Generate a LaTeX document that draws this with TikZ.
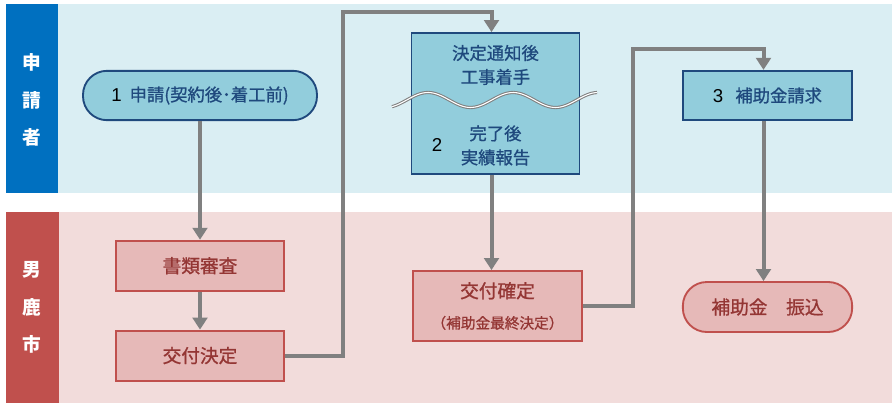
\documentclass[tikz,border=0pt]{standalone}
\usepackage{fontspec}
\newfontfamily\jpfont[BoldFont={Noto Sans CJK JP}, BoldFeatures={FakeBold=1}]{Noto Sans CJK JP}
\newfontfamily\jplane{Noto Sans CJK JP}
\newfontfamily\numfont{Liberation Sans}
\usepackage{xcolor}
\usetikzlibrary{arrows.meta, positioning}

\definecolor{barblue}{HTML}{0070C0}
\definecolor{bandblue}{HTML}{DAEEF3}
\definecolor{fillblue}{HTML}{92CDDC}
\definecolor{lineblue}{HTML}{1F497D}
\definecolor{barred}{HTML}{C0504D}
\definecolor{bandred}{HTML}{F2DCDB}
\definecolor{fillred}{HTML}{E6B9B8}
\definecolor{textred}{HTML}{943634}
\definecolor{arrgray}{HTML}{808080}

\begin{document}
\begin{tikzpicture}[x=0.75pt, y=-0.75pt,
  bluebox/.style  = {draw=lineblue, line width=1.4pt, fill=fillblue,
                     text=lineblue, align=center, inner sep=0pt,
                     minimum width=126pt, minimum height=37pt,
                     font=\jpfont\fontsize{13}{15}\selectfont},
  redbox/.style   = {draw=barred, line width=1.4pt, fill=fillred,
                     text=textred, align=center, inner sep=0pt,
                     minimum width=126pt, minimum height=37.5pt,
                     font=\jpfont\fontsize{14}{16}\selectfont},
  pill/.style     = {rounded corners=18pt},
  bandlbl/.style  = {text=white, align=center, inner sep=0pt,
                     font=\jplane\bfseries\fontsize{14}{28}\selectfont},
  bluetxt/.style  = {text=lineblue, align=center, inner sep=0pt,
                     font=\jpfont\fontsize{13}{18}\selectfont},
  num/.style      = {text=black, inner sep=0pt,
                     font=\numfont\fontsize{14}{15}\selectfont},
  wave/.style     = {draw=arrgray, line width=0.8pt,
                     double=white, double distance=0.8pt},
  arr/.style      = {-{Triangle[length=9pt, width=11pt]}, line width=3pt,
                     arrgray}
]
\useasboundingbox (0,0) rectangle (892,403);

% lanes
\fill[bandblue] (58,4) rectangle (892,193);
\fill[barblue] (6,4) rectangle (58,193);
\fill[bandred] (59,212) rectangle (892,403);
\fill[barred] (6,212) rectangle (59,403);
\node[bandlbl] (lane1) at (32,100) {申\\請\\者};
\node[bandlbl] (lane2) at (32,307.5) {男\\鹿\\市};

% applicant side
\node[bluebox, pill, minimum width=175.5pt] (app) at (200,95.5)
  {{\numfont\fontsize{14}{15}\selectfont\color{black}1}\hspace{6pt}\bfseries 申請(契約後･着工前)};
\node[bluebox, minimum height=105.75pt] (report) at (495.5,103.5) {};
\node[bluetxt] (start) at (495.5,65) {\bfseries 決定通知後\\\bfseries 工事着手};
\node[bluetxt] (done) at (495.5,145.5) {\bfseries 完了後\\\bfseries 実績報告};
\node[num] (n2) at (437,145) {2};
\draw[wave] plot[domain=392:597, samples=80, smooth]
  (\x, {100-7.5*cos((\x-428)*4.235)});
\node[bluebox, minimum width=127pt] (claim) at (767.5,95.5)
  {{\numfont\fontsize{14}{15}\selectfont\color{black}3}\hspace{9pt}\bfseries 補助金請求};

% city side
\node[redbox, below=89pt of app] (check) {\bfseries 書類審査};
\node[redbox, below=28.5pt of check] (grant) {\bfseries 交付決定};
\node[redbox, minimum width=127pt, minimum height=52.5pt] (fix) at (497.5,306)
  {\bfseries 交付確定\\[7pt]{\bfseries\fontsize{11}{12}\selectfont （補助金最終決定）}};
\node[redbox, pill, minimum width=127pt] (pay) at (767.5,307) {\bfseries 補助金　振込};

% flow
\coordinate (up1) at (343,12);
\coordinate (up2) at (633,49);
\draw[arr] (app) -- (check);
\draw[arr] (check) -- (grant);
\draw[arr] (grant.east) -| (up1) -| ([xshift=-3pt]report.north);
\draw[arr] ([xshift=-3pt]report.south) -- ([xshift=-3pt]report.south |- fix.north);
\draw[arr] (fix.east) -| (up2) -| ([xshift=-3pt]claim.north);
\draw[arr] ([xshift=-3pt]claim.south) -- ([xshift=-3pt]claim.south |- pay.north);
\end{tikzpicture}
\end{document}
